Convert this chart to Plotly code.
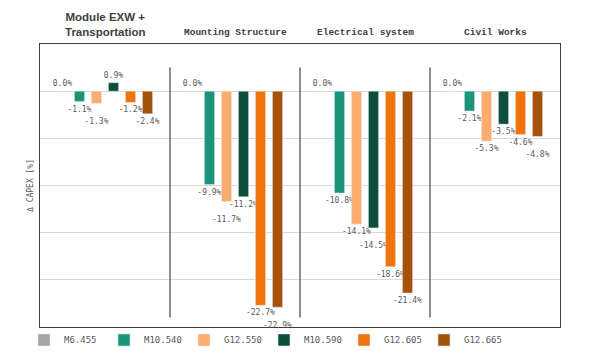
import plotly.graph_objects as go

categories = ["Module EXW +<br>Transportation", "Mounting Structure", "Electrical system", "Civil Works"]
series_names = ["M6.455", "M10.540", "G12.550", "M10.590", "G12.605", "G12.665"]
m6_455 = [0.0, 0.0, 0.0, 0.0]
m10_540 = [-1.1, -9.9, -10.8, -2.1]
g12_550 = [-1.3, -11.7, -14.1, -5.3]
m10_590 = [0.9, -11.2, -14.5, -3.5]
g12_605 = [-1.2, -22.7, -18.6, -4.6]
g12_665 = [-2.4, -22.9, -21.4, -4.8]
series_values = [m6_455, m10_540, g12_550, m10_590, g12_605, g12_665]
colors = ["#a5a5a5", "#1b957a", "#fcad6e", "#0e4e3c", "#ef7409", "#a6520b"]
# labels pushed one line further from the bar end (as hand-placed in the original)
label_dropped = [
    [False] * 4,
    [False, False, False, False],
    [True, True, False, False],
    [False, False, True, False],
    [False, False, False, False],
    [False, True, False, True],
]

label_font = dict(family="DejaVu Sans Mono", size=8, color="#595959")

fig = go.Figure()
for name, vals, col, drop in zip(series_names, series_values, colors, label_dropped):
    fig.add_trace(go.Bar(
        name=name, x=categories, y=vals, marker_color=col,
        text=[("\u00a0<br>" if d else "") + f"{v:.1f}%" for v, d in zip(vals, drop)],
        textposition="outside",
        textfont=label_font, constraintext="none", cliponaxis=False,
    ))

# group titles
for i, c in enumerate(categories):
    if i == 0:
        font = dict(family="Liberation Sans", size=11.5, color="#404040")
    else:
        font = dict(family="Liberation Mono", size=9.5, color="#404040")
    fig.add_annotation(x=c, y=1.02, xref="x", yref="paper", text="<b>" + c + "</b>",
                       showarrow=False, yanchor="bottom", yshift=-2, font=font)

# group separators
for i in range(len(categories) - 1):
    fig.add_shape(type="line", xref="x", yref="y", x0=i + 0.5, x1=i + 0.5,
                  y0=2.5, y1=-24, line=dict(color="#404040", width=1.2))

fig.update_layout(
    width=600, height=356,
    margin=dict(l=40, r=40, t=44, b=29, autoexpand=False),
    paper_bgcolor="white", plot_bgcolor="white",
    barmode="group", bargap=0.215, bargroupgap=0.4,
    showlegend=True,
    legend=dict(orientation="h", xref="container", yref="container",
                x=0.04, y=0.045, xanchor="left", yanchor="middle",
                bgcolor="rgba(0,0,0,0)",
                entrywidth=35, font=dict(family="DejaVu Sans Mono", size=9, color="#595959"),
                itemwidth=30, traceorder="normal"),
    xaxis=dict(showticklabels=False, showline=True, mirror=True, automargin=False,
               linecolor="#404040", linewidth=1.2, showgrid=False, ticks=""),
    yaxis=dict(range=[-25, 5], dtick=5, showticklabels=False, showgrid=True,
               gridcolor="#d9d9d9", gridwidth=1, zeroline=False, automargin=False,
               showline=True, mirror=True, linecolor="#404040", linewidth=1.2,
               title=dict(text="Δ CAPEX [%]", standoff=4,
                          font=dict(family="DejaVu Sans Mono", size=8, color="#595959"))),
)

fig.write_html("out.html", config={"displayModeBar": False},
               post_script="document.body.style.margin='0';document.body.style.overflow='hidden';")
